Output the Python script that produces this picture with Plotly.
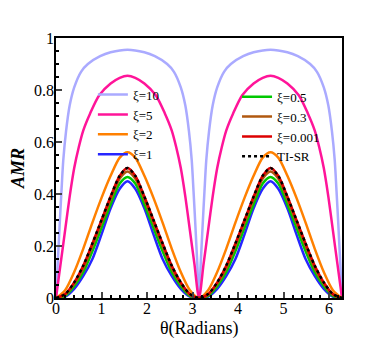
import numpy as np
import plotly.graph_objects as go

# values read for one half lobe, theta in [0, pi/2]; curves are symmetric about pi/2 and repeat every pi
half_pi = np.pi / 2

theta_xi10 = [0, 0.04, 0.08, 0.12, 0.16, 0.22, 0.30, 0.40, 0.55, 0.70, 0.97, 1.20, half_pi]
amr_xi10 = [0, 0.14, 0.28, 0.41, 0.53, 0.64, 0.74, 0.81, 0.87, 0.90, 0.93, 0.945, 0.955]

theta_xi5 = [0, 0.10, 0.20, 0.30, 0.40, 0.50, 0.60, 0.75, 0.95, 1.20, 1.40, half_pi]
amr_xi5 = [0, 0.13, 0.26, 0.39, 0.50, 0.58, 0.645, 0.71, 0.78, 0.825, 0.847, 0.855]

theta_small = [0, 0.2, 0.4, 0.6, 0.8, 1.0, 1.2, 1.4, half_pi]
amr_xi2 = [0, 0.03, 0.10, 0.19, 0.29, 0.385, 0.47, 0.54, 0.561]
amr_xi1 = [0, 0.005, 0.035, 0.085, 0.15, 0.245, 0.345, 0.42, 0.449]
amr_xi05 = [0, 0.008, 0.045, 0.10, 0.18, 0.27, 0.36, 0.44, 0.465]
amr_xi03 = [0, 0.012, 0.055, 0.115, 0.20, 0.29, 0.38, 0.46, 0.487]
amr_xi0001 = [0, 0.015, 0.06, 0.125, 0.21, 0.30, 0.39, 0.47, 0.50]
amr_tisr = [0, 0.015, 0.06, 0.125, 0.21, 0.30, 0.39, 0.47, 0.50]

series = [
    ('ξ=10', theta_xi10, amr_xi10, '#aaaaff', 'solid', 'legend'),
    ('ξ=5', theta_xi5, amr_xi5, '#ff1499', 'solid', 'legend'),
    ('ξ=2', theta_small, amr_xi2, '#ff8000', 'solid', 'legend'),
    ('ξ=1', theta_small, amr_xi1, '#2626ff', 'solid', 'legend'),
    ('ξ=0.5', theta_small, amr_xi05, '#00c800', 'solid', 'legend2'),
    ('ξ=0.3', theta_small, amr_xi03, '#b0580f', 'solid', 'legend2'),
    ('ξ=0.001', theta_small, amr_xi0001, '#dd0000', 'solid', 'legend2'),
    ('TI-SR', theta_small, amr_tisr, 'black', 'dot', 'legend2'),
]


def full_period(theta, amr):
    th = np.array(theta)
    v = np.array(amr)
    lobe_x = np.concatenate([th, np.pi - th[::-1][1:]])
    lobe_y = np.concatenate([v, v[::-1][1:]])
    return np.concatenate([lobe_x, lobe_x[1:] + np.pi]), np.concatenate([lobe_y, lobe_y[1:]])


fig = go.Figure()
for name, th, v, color, dash, leg in series:
    x, y = full_period(th, v)
    fig.add_trace(go.Scatter(x=x, y=y, mode='lines', name=name, legend=leg,
                             line=dict(color=color, width=2.5, dash=dash, shape='spline', smoothing=0.8)))

serif = 'Times New Roman, Liberation Serif, serif'
leg_font = dict(family=serif, size=13, color='black')
# the page body adds an 8px offset, so margins are trimmed to keep the frame where the reference has it
fig.update_layout(
    width=382, height=339,
    margin=dict(l=48, r=48, t=30, b=49),
    plot_bgcolor='white', paper_bgcolor='white',
    font=dict(family=serif, size=16, color='black'),
    legend=dict(x=0.129, y=0.84, xanchor='left', yanchor='top', bgcolor='rgba(0,0,0,0)',
                font=leg_font, tracegroupgap=0, itemwidth=30),
    legend2=dict(x=0.633, y=0.832, xanchor='left', yanchor='top', bgcolor='rgba(0,0,0,0)',
                 font=leg_font, tracegroupgap=0, itemwidth=30),
)
fig.add_annotation(text='θ(Radians)', xref='paper', yref='paper', x=0.5, y=-0.118,
                   xanchor='center', yanchor='middle', showarrow=False, font=dict(size=18))
fig.update_xaxes(range=[0, 2 * np.pi], dtick=1, tick0=0, ticks='inside', ticklen=6, tickwidth=1.5,
                 showline=True, linecolor='black', linewidth=1.5, mirror=True, showgrid=False, zeroline=False,
                 automargin=False, ticklabelstandoff=-5,
                 minor=dict(dtick=0.2, ticks='inside', ticklen=3, tickcolor='black'))
fig.update_yaxes(range=[0, 1], dtick=0.2, tick0=0, ticks='inside', ticklen=6, tickwidth=1.5,
                 showline=True, linecolor='black', linewidth=1.5, mirror=True, showgrid=False, zeroline=False,
                 automargin=False, tickformat='~g', ticklabelstandoff=-3,
                 minor=dict(dtick=0.05, ticks='inside', ticklen=3, tickcolor='black'),
                 title=dict(text='<b><i>AMR</i></b>', font=dict(size=18), standoff=10))
fig.write_html('out.html')
